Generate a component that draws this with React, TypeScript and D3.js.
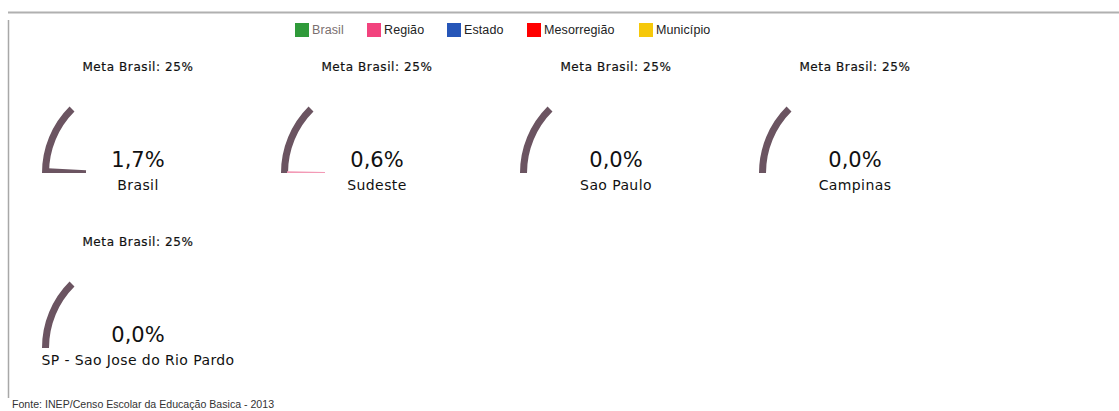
import React from "react";
import * as d3 from "d3";

const regions = ["Brasil", "Sudeste", "Sao Paulo", "Campinas", "SP - Sao Jose do Rio Pardo"];
const values = [1.7, 0.6, 0.0, 0.0, 0.0];
const valueColors = ["#6b5461", "#f39ab6", "#2255bb", "#ff0000", "#f5c800"];
const metaLabel = "Meta Brasil: 25%";
const metaValue = 25;
const levels = ["Brasil", "Região", "Estado", "Mesorregião", "Município"];
const levelColors = ["#2f9a3a", "#f2437e", "#2656b8", "#ff0000", "#f6c80a"];
const levelTextColors = ["#7a6f6f", "#222", "#222", "#222", "#222"];
const source = "Fonte: INEP/Censo Escolar da Educação Basica - 2013";

const W = 1119;
const H = 411;

export default function App() {
  const scale = d3.scaleLinear().domain([0, 100]).range([-Math.PI / 2, Math.PI / 2]);
  const metaArc = d3.arc<any>().innerRadius(87).outerRadius(94);
  const valueArc = d3.arc<any>().innerRadius(50).outerRadius(88);

  const legendX = [295, 367, 447, 527, 639];
  const cols = 4;
  const colX = (i: number) => 136 + (i % cols) * 239;
  const rowY = (i: number) => Math.floor(i / cols) * 175;

  return (
    <svg
      width={W}
      height={H}
      style={{ position: "absolute", left: 0, top: 0, background: "#fff" }}
    >
      <line x1={8} x2={W} y1={12.5} y2={12.5} stroke="#b0b0b0" strokeWidth={2} />
      <line x1={8.5} x2={8.5} y1={20} y2={398} stroke="#a8a8a8" strokeWidth={1.5} />

      {levels.map((l, i) => (
        <g key={l}>
          <rect x={legendX[i]} y={23} width={14} height={14} fill={levelColors[i]} />
          <text
            x={legendX[i] + 17}
            y={34}
            fontFamily="Liberation Sans, Arial, sans-serif"
            fontSize={12.5}
            letterSpacing={0.1}
            fill={levelTextColors[i]}
          >
            {l}
          </text>
        </g>
      ))}

      {regions.map((r, i) => {
        const cx = colX(i);
        const dy = rowY(i);
        const cy = 173 + dy;
        const tx = cx + 2;
        return (
          <g key={r}>
            <text
              x={tx}
              y={71 + dy}
              textAnchor="middle"
              fontFamily="DejaVu Sans, sans-serif"
              fontSize={12}
              fill="#111"
              letterSpacing={0.6}
              stroke="#111"
              strokeWidth={0.2}
            >
              {metaLabel}
            </text>
            <g transform={`translate(${cx},${cy})`}>
              <path
                d={metaArc({ startAngle: scale(0), endAngle: scale(metaValue) }) as string}
                fill="#6b5461"
              />
              {values[i] > 0 && (
                <path
                  d={valueArc({ startAngle: scale(0), endAngle: scale(values[i]) }) as string}
                  fill={valueColors[i]}
                />
              )}
            </g>
            <text
              x={tx}
              y={167 + dy}
              textAnchor="middle"
              fontFamily="DejaVu Sans, sans-serif"
              fontSize={21}
              fill="#111"
            >
              {values[i].toFixed(1).replace(".", ",") + "%"}
            </text>
            <text
              x={tx}
              y={190 + dy}
              textAnchor="middle"
              fontFamily="DejaVu Sans, sans-serif"
              fontSize={14}
              letterSpacing={0.4}
              fill="#111"
            >
              {r}
            </text>
          </g>
        );
      })}

      <text
        x={12}
        y={408}
        fontFamily="Liberation Sans, Arial, sans-serif"
        fontSize={10.6}
        fill="#333"
      >
        {source}
      </text>
    </svg>
  );
}
